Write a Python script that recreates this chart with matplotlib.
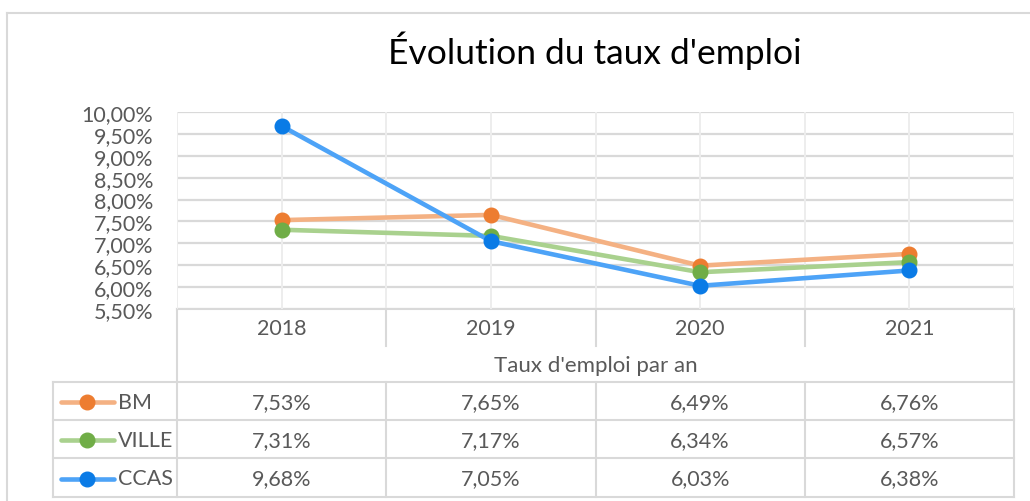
import matplotlib
matplotlib.use("Agg")
import matplotlib.pyplot as plt
from matplotlib.lines import Line2D
from matplotlib.transforms import blended_transform_factory

plt.rcParams['font.family'] = ['Lato', 'DejaVu Sans']

# ---- data ----
years = ["2018", "2019", "2020", "2021"]
series_names = ["BM", "VILLE", "CCAS"]
bm = [7.53, 7.65, 6.49, 6.76]
ville = [7.31, 7.17, 6.34, 6.57]
ccas = [9.68, 7.05, 6.03, 6.38]
title = "Évolution du taux d'emploi"
axis_title = "Taux d'emploi par an"
y_ticks = [5.5, 6.0, 6.5, 7.0, 7.5, 8.0, 8.5, 9.0, 9.5, 10.0]

line_colors = ["#F4B183", "#A9D18E", "#4DA3F7"]
marker_colors = ["#ED7D31", "#70AD47", "#0A7BE6"]
values = [bm, ville, ccas]

W, H = 1030, 502
fig = plt.figure(figsize=(W / 100, H / 100), dpi=100)
fig.patch.set_facecolor("white")

# overlay axes in pixel coords for table / borders
ov = fig.add_axes([0, 0, 1, 1], zorder=0)
ov.set_xlim(0, W)
ov.set_ylim(H, 0)
ov.axis("off")

# plot area
L, R, T, B = 177, 1014, 113, 310
ax = fig.add_axes([L / W, (H - B) / H, (R - L) / W, (B - T) / H], zorder=1)
ax.patch.set_alpha(0)
x = list(range(len(years)))
ax.set_xlim(-0.5, len(years) - 0.5)
ax.set_ylim(y_ticks[0], y_ticks[-1])
ax.set_yticks(y_ticks)
ax.set_yticklabels([f"{v:.2f}%".replace(".", ",") for v in y_ticks],
                   fontsize=15.5, color="#595959")
ax.tick_params(axis="y", length=0, pad=17)
ax.set_xticks([])
for s in ax.spines.values():
    s.set_visible(False)

grid_c = "#D9D9D9"
for v in y_ticks:
    ax.axhline(v, color=grid_c, lw=1.6, zorder=0)
for i in x:
    ax.axvline(i, color="#EDEDED", lw=1.4, zorder=0)
for i in range(len(years) + 1):
    ax.axvline(i - 0.5, color="#EDEDED", lw=1.4, zorder=0)

for k, (vals, lc, mc) in enumerate(zip(values, line_colors, marker_colors)):
    ax.plot(x, vals, color=lc, lw=3.3, solid_capstyle="round", zorder=2 + k)
    ax.plot(x, vals, ls="none", marker="o", ms=10.5, color=mc, zorder=2 + k)

# ---- table ----
tc = "#D9D9D9"
lw = 1.5
bx = blended_transform_factory(ax.transData, ov.transData)
rows = [383, 421, 459, 498]
leg_left = 53
fs = 15.5

def hline(y, x0, x1):
    ov.add_line(Line2D([x0, x1], [y, y], color=tc, lw=lw))

def vline(xp, y0, y1):
    ov.add_line(Line2D([xp, xp], [y0, y1], color=tc, lw=lw))

hline(310, L, R)
vline(L, 310, 498)
vline(R, 310, 498)
for y in rows:
    hline(y, leg_left, R)
vline(leg_left, 383, 498)
for i in range(1, len(years)):
    ax.add_line(Line2D([i - 0.5, i - 0.5], [310, 347], color=tc, lw=lw,
                       transform=bx, clip_on=False))
    ax.add_line(Line2D([i - 0.5, i - 0.5], [383, 498], color=tc, lw=lw,
                       transform=bx, clip_on=False))

txt_c = "#595959"
for i, yr in zip(x, years):
    ax.text(i, 329, yr, transform=bx, ha="center", va="center",
            fontsize=fs, color=txt_c, clip_on=False)
ov.text((L + R) / 2, 366, axis_title, ha="center", va="center",
        fontsize=16, color=txt_c)

for r, (name, vals, lc, mc) in enumerate(zip(series_names, values,
                                             line_colors, marker_colors)):
    yc = (rows[r] + rows[r + 1]) / 2 + 1
    ov.add_line(Line2D([61, 114], [yc, yc], color=lc, lw=3.3,
                       solid_capstyle="round"))
    ov.add_line(Line2D([87], [yc], ls="none", marker="o", ms=10.5, color=mc))
    ov.text(118, yc, name, ha="left", va="center", fontsize=fs, color=txt_c)
    for i, v in zip(x, vals):
        ax.text(i, yc, f"{v:.2f}%".replace(".", ","), transform=bx,
                ha="center", va="center", fontsize=fs, color=txt_c,
                clip_on=False)

# chart border
ov.add_line(Line2D([7, W], [14, 14], color="#D9D9D9", lw=1.5))
ov.add_line(Line2D([7, 7], [14, H], color="#D9D9D9", lw=1.5))

ov.text(595, 51, title, ha="center", va="center", fontsize=25.5,
        color="#000000")

fig.savefig("out.png", dpi=100, facecolor="white")
